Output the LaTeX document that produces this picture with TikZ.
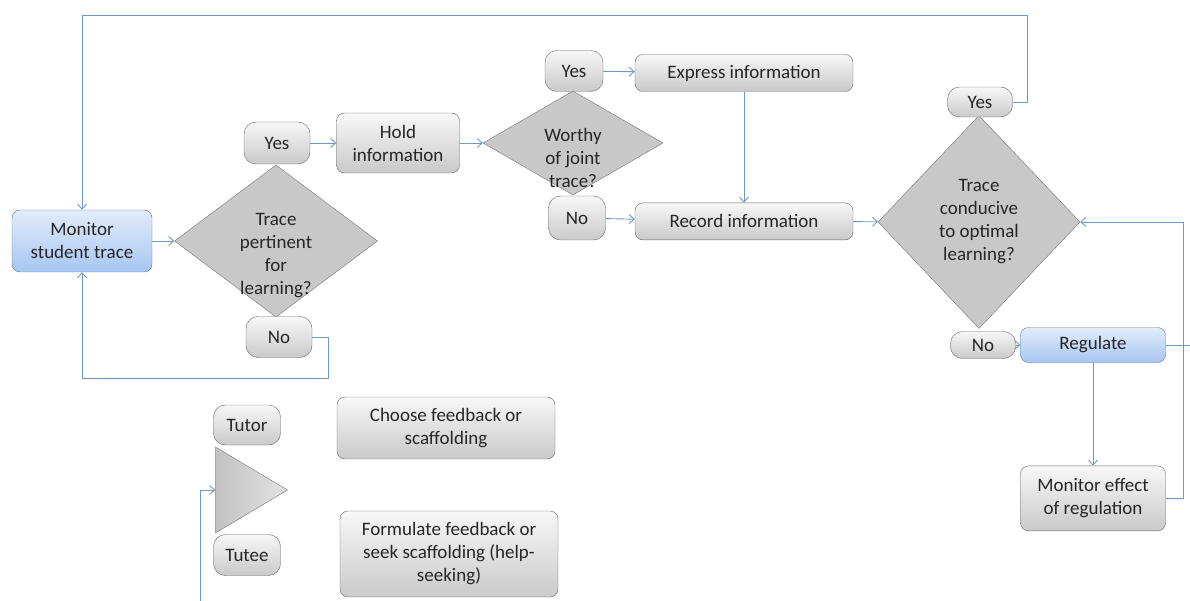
\documentclass[tikz,border=0pt]{standalone}
\usepackage{fontspec}
\setmainfont{Carlito}
\usepackage{xcolor}
\usetikzlibrary{positioning, shapes.geometric, arrows.meta}

\definecolor{linkblue}{HTML}{7198C0}
\definecolor{bluetop}{HTML}{E2ECFB}
\definecolor{bluebottom}{HTML}{A7C6F1}
\definecolor{diamondgray}{HTML}{C8C8C8}

\begin{document}
\begin{tikzpicture}[
        x=1pt, y=-1pt,
        every node/.style={font=\fontsize{19}{23}\selectfont, text=black!85},
        box/.style={draw=black!60, rectangle, rounded corners=8pt, top color=gray!6, bottom color=gray!42, align=center, inner sep=0pt},
        bluebox/.style={box, draw=linkblue!80!black, top color=bluetop, bottom color=bluebottom},
        pill/.style={box, rounded corners=12pt},
        decision/.style={draw=black!55, diamond, fill=diamondgray, inner sep=0pt},
        link/.style={draw=linkblue, line width=0.9pt, -{Straight Barb[length=5pt, width=9pt]}}
    ]
    \useasboundingbox (0,0) rectangle (1190,601);

    \node[bluebox, minimum width=140pt, minimum height=62pt] (monitor) at (82,241) {Monitor\\student trace};
    \node[decision, minimum width=203pt, minimum height=152pt, label={[align=center, yshift=-15pt]center:Trace\\pertinent\\for\\learning?}] (pertinent) at (276,241) {};
    \node[pill, minimum width=66pt, minimum height=42pt] (yesA) at (277,143) {Yes};
    \node[pill, minimum width=66pt, minimum height=41pt] (noA) at (279,337) {No};

    \node[box, minimum width=123pt, minimum height=60pt] (hold) at (398,143) {Hold\\information};
    \node[decision, minimum width=180pt, minimum height=104pt, label={[align=center, yshift=-15pt]center:Worthy\\of joint\\trace?}] (worthy) at (573,143) {};
    \node[pill, minimum width=58pt, minimum height=41pt] (yesB) at (574,71) {Yes};
    \node[pill, minimum width=57pt, minimum height=44pt] (noB) at (577,218) {No};

    \node[box, minimum width=218pt, minimum height=37pt] (express) at (744,73) {Express information};
    \node[box, minimum width=218pt, minimum height=37pt, below=111pt of express] (record) {Record information};

    \node[decision, minimum width=202pt, minimum height=213pt, label={[align=center]center:Trace\\conducive\\to optimal\\learning?}] (conducive) at (979,222) {};
    \node[pill, minimum width=65pt, minimum height=30pt] (yesC) at (980,102) {Yes};
    \node[pill, minimum width=65pt, minimum height=27pt] (noC) at (983,345) {No};

    \node[bluebox, minimum width=145pt, minimum height=35pt] (regulate) at (1093,345) {Regulate};
    \node[box, minimum width=145pt, minimum height=65pt, below=103pt of regulate] (effect) {Monitor effect\\of regulation};

    % legend
    \node[pill, minimum width=67pt, minimum height=40pt] (tutor) at (247,425) {Tutor};
    \node[pill, minimum width=67pt, minimum height=41pt] (tutee) at (247,555) {Tutee};
    \node[draw=black!55, isosceles triangle, isosceles triangle stretches, minimum width=86pt, minimum height=72pt, inner sep=0pt, left color=gray!48, right color=gray!22, anchor=east] (turn) at (288,490) {};
    \node[box, minimum width=218pt, minimum height=62pt] (choose) at (446,428) {Choose feedback or\\scaffolding};
    \node[box, minimum width=218pt, minimum height=86pt] (formulate) at (449,554) {Formulate feedback or\\seek scaffolding (help-\\seeking)};

    \coordinate (lead) at (200,601);
    \coordinate (rim) at (1190,345);

    \draw[link] (monitor) -- (pertinent);
    \draw[link] (yesA) -- (hold);
    \draw[link] (hold) -- (worthy);
    \draw[link] (yesB) -- (express);
    \draw[link] (noB) -- (record);
    \draw[link] (express) -- (record);
    \draw[link] (record) -- (conducive);
    \draw[link] (noC) -- (regulate);
    \draw[link] (regulate) -- (effect);
    \draw[link] (effect.east) -- ++(18,0) |- (conducive.east);
    \draw[link, -] (regulate.east) -- (rim);
    \draw[link] (noA.east) -- ++(16,0) -- ++(0,41) -| (monitor.south);
    \draw[link] (yesC.east) -- ++(15,0) -- ++(0,-87) -| (monitor.north);
    \draw[link] (lead) |- (turn.west);

\end{tikzpicture}
\end{document}
